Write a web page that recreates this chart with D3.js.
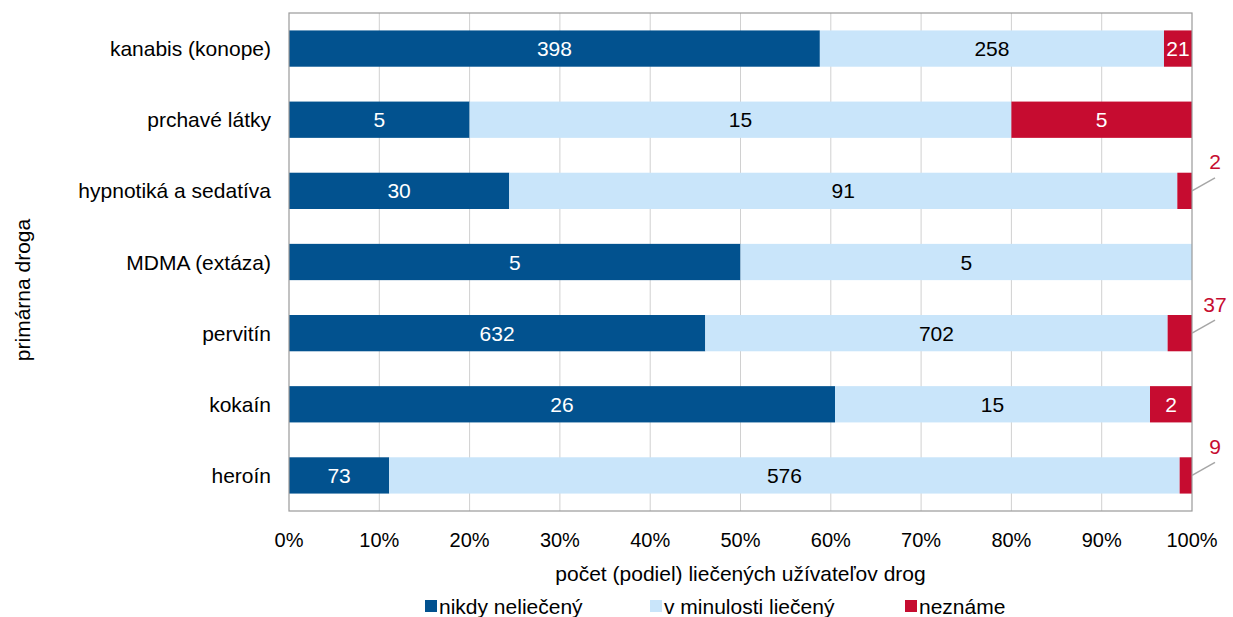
<!DOCTYPE html>
<html>
<head>
<meta charset="utf-8">
<script src="https://cdn.jsdelivr.net/npm/d3@7"></script>
<style>
	body { margin: 0; background: #fff; }
	text { font-family: "Liberation Sans", Arial, sans-serif; }
</style>
</head>
<body>
<script>
(function(){

	//chart data
	var categories = ["kanabis (konope)", "prchavé látky", "hypnotiká a sedatíva", "MDMA (extáza)", "pervitín", "kokaín", "heroín"];
	var seriesNames = ["nikdy neliečený", "v minulosti liečený", "neznáme"];
	var neverTreated = [398, 5, 30, 5, 632, 26, 73];
	var treatedBefore = [258, 15, 91, 5, 702, 15, 576];
	var unknown = [21, 5, 2, 0, 37, 2, 9];
	var xTicks = [0, 0.1, 0.2, 0.3, 0.4, 0.5, 0.6, 0.7, 0.8, 0.9, 1];
	//small segments get label outside with a leader line
	var outsideLabels = ["hypnotiká a sedatíva", "pervitín", "heroín"];

	var colors = ["#02528f", "#c9e5fa", "#c60c30"],
		labelColors = ["#fff", "#000", "#fff"];

	//frame dimensions
	var width = 1233,
		height = 617,
		left = 289,
		right = 1192,
		top = 13,
		bottom = 511;

	var svg = d3.select("body")
		.append("svg")
		.attr("width", width)
		.attr("height", height);

	var xScale = d3.scaleLinear()
		.domain([0, 1])
		.range([left, right]);

	var yScale = d3.scaleBand()
		.domain(categories)
		.range([top, bottom])
		.paddingInner(0.49)
		.paddingOuter(0.245);

	//build stacked rows as shares
	var rows = categories.map(function(c, i){
		var vals = [neverTreated[i], treatedBefore[i], unknown[i]];
		var total = d3.sum(vals);
		var x0 = 0;
		return vals.map(function(v, s){
			var seg = {cat: c, series: s, value: v, x0: x0, x1: x0 + v / total};
			x0 += v / total;
			return seg;
		});
	});

	//gridlines
	svg.selectAll(".grid")
		.data(xTicks.slice(1, -1))
		.enter()
		.append("line")
		.attr("x1", function(d){ return xScale(d); })
		.attr("x2", function(d){ return xScale(d); })
		.attr("y1", top)
		.attr("y2", bottom)
		.attr("stroke", "#d0d0d0")
		.attr("stroke-width", 1);

	//bars
	var segs = d3.merge(rows).filter(function(d){ return d.value > 0; });
	svg.selectAll(".bar")
		.data(segs)
		.enter()
		.append("rect")
		.attr("class", "bar")
		.attr("x", function(d){ return xScale(d.x0); })
		.attr("width", function(d){ return xScale(d.x1) - xScale(d.x0); })
		.attr("y", function(d){ return yScale(d.cat); })
		.attr("height", yScale.bandwidth())
		.attr("fill", function(d){ return colors[d.series]; });

	//frame
	svg.append("rect")
		.attr("x", left)
		.attr("y", top)
		.attr("width", right - left)
		.attr("height", bottom - top)
		.attr("fill", "none")
		.attr("stroke", "#9a9a9a")
		.attr("stroke-width", 1.2);

	//inside value labels
	svg.selectAll(".val")
		.data(segs.filter(function(d){
			return !(d.series == 2 && outsideLabels.indexOf(d.cat) >= 0);
		}))
		.enter()
		.append("text")
		.attr("x", function(d){ return (xScale(d.x0) + xScale(d.x1)) / 2; })
		.attr("y", function(d){ return yScale(d.cat) + yScale.bandwidth() / 2; })
		.attr("dy", "0.36em")
		.attr("text-anchor", "middle")
		.style("font-size", "21px")
		.attr("fill", function(d){ return labelColors[d.series]; })
		.text(function(d){ return d.value; });

	//outside labels with leader lines
	var outs = segs.filter(function(d){
		return d.series == 2 && outsideLabels.indexOf(d.cat) >= 0;
	});
	outs.forEach(function(d){
		var cy = yScale(d.cat) + yScale.bandwidth() / 2;
		svg.append("line")
			.attr("x1", xScale(1))
			.attr("y1", cy)
			.attr("x2", xScale(1) + 23)
			.attr("y2", cy - 13)
			.attr("stroke", "#a6a6a6")
			.attr("stroke-width", 1.5);
		svg.append("text")
			.attr("x", xScale(1) + 23)
			.attr("y", cy - 29)
			.attr("dy", "0.36em")
			.attr("text-anchor", "middle")
			.style("font-size", "21px")
			.attr("fill", colors[2])
			.text(d.value);
	});

	//category labels
	svg.selectAll(".cat")
		.data(categories)
		.enter()
		.append("text")
		.attr("x", left - 18)
		.attr("y", function(d){ return yScale(d) + yScale.bandwidth() / 2; })
		.attr("dy", "0.36em")
		.attr("text-anchor", "end")
		.style("font-size", "21px")
		.attr("fill", "#000")
		.text(function(d){ return d; });

	//x tick labels
	svg.selectAll(".tick")
		.data(xTicks)
		.enter()
		.append("text")
		.attr("x", function(d){ return xScale(d); })
		.attr("y", 540)
		.attr("dy", "0.36em")
		.attr("text-anchor", "middle")
		.style("font-size", "20px")
		.text(function(d){ return Math.round(d * 100) + "%"; });

	//axis titles
	svg.append("text")
		.attr("x", (left + right) / 2)
		.attr("y", 573)
		.attr("dy", "0.36em")
		.attr("text-anchor", "middle")
		.style("font-size", "21px")
		.text("počet (podiel) liečených užívateľov drog");

	svg.append("text")
		.attr("transform", "translate(22,290) rotate(-90)")
		.attr("dy", "0.36em")
		.attr("text-anchor", "middle")
		.style("font-size", "21px")
		.text("primárna droga");

	//legend
	var legendX = [425, 650, 905];
	var legend = svg.selectAll(".legend")
		.data(seriesNames)
		.enter()
		.append("g")
		.attr("transform", function(d, i){ return "translate(" + legendX[i] + ",606)"; });
	legend.append("rect")
		.attr("x", 0)
		.attr("y", -6)
		.attr("width", 12)
		.attr("height", 12)
		.attr("fill", function(d, i){ return colors[i]; });
	legend.append("text")
		.attr("x", 14)
		.attr("dy", "0.36em")
		.style("font-size", "21px")
		.text(function(d){ return d; });
})();
</script>
</body>
</html>
